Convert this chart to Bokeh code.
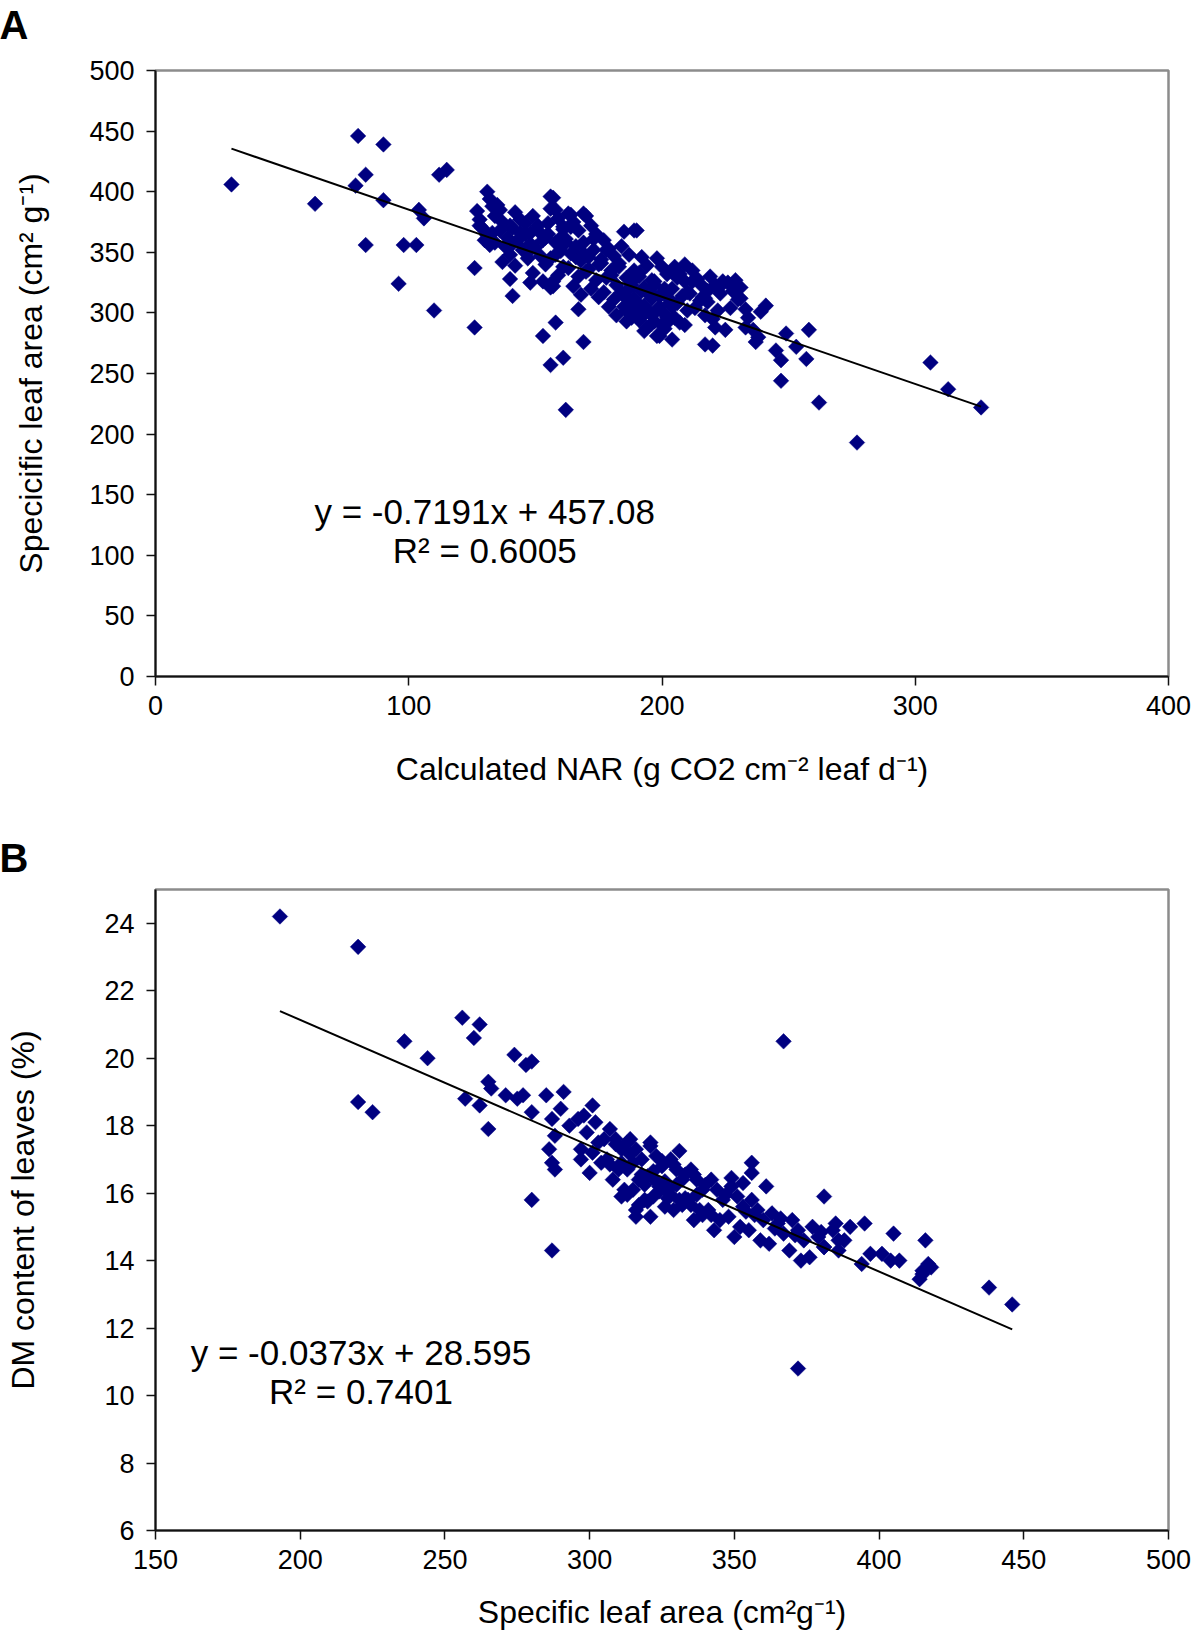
import math
from bokeh.plotting import figure
from bokeh.models import Range1d, FixedTicker, Label
from bokeh.layouts import column
from bokeh.embed import file_html
from bokeh.resources import INLINE

FONT = "Liberation Sans"
NAVY = "#000080"

# ---------------- Panel A: NAR vs specific leaf area ----------------
nar_a = [
    # isolated points
    30, 63, 80, 90, 83, 79, 90, 83, 98, 103, 96, 110, 104, 106, 112, 115, 126, 126, 141, 140,
    148, 153, 156, 161, 162, 158, 169, 167, 156, 164, 169, 189, 204, 198, 217, 220, 221, 225, 233, 237,
    229, 224, 231, 217, 209, 207, 241, 239, 245, 247, 249, 253, 257, 247, 258, 262, 277, 306, 313, 326,
    156, 157, 158,
    # dense band
    127, 128, 129, 131, 130, 131, 132, 133, 128, 133, 132,
    135, 134, 137, 136, 139, 138, 140, 137, 140, 136, 134,
    142, 144, 141, 146, 143, 145, 147, 142, 146, 144, 141, 147,
    149, 151, 148, 153, 150, 152, 154, 149, 153, 151, 154, 148,
    157, 156, 159, 161, 155, 158, 160, 156, 161, 159, 157, 155, 160, 158, 161,
    163, 165, 167, 162, 166, 164, 168, 163, 167, 165, 168, 162, 166, 164,
    170, 172, 174, 169, 173, 171, 175, 170, 174, 172, 175, 169, 173, 171,
    177, 179, 181, 176, 180, 178, 182, 177, 181, 179, 182, 176, 180, 178,
    185, 184, 187, 183, 189, 186, 188, 184, 187, 185, 189, 186, 183, 188, 185,
    190, 192, 194, 191, 196, 193, 195, 190, 194, 192, 196, 193, 191, 195, 190, 196, 192,
    198, 200, 202, 197, 201, 199, 203, 198, 202, 200, 199, 197, 203, 201,
    205, 207, 209, 204, 208, 206, 210, 205, 209, 206, 210,
    212, 214, 216, 211, 215, 213, 217, 212, 216,
    219, 221, 223, 218, 222, 220, 224, 218,
    226, 228, 230, 227, 231,
    233, 236, 238, 234,
    186, 188, 191, 193, 195, 197, 199, 201, 203, 189, 192, 200, 204, 187, 194,
]
sla_a = [
    406, 390, 446, 439, 414, 405, 393, 356, 356, 356, 324, 302, 385, 378, 414, 418, 337, 288, 314, 328,
    325, 281, 257, 263, 220, 292, 276, 303, 396, 381, 382, 368, 278, 281, 274, 273, 288, 286, 288, 276,
    327, 324, 312, 312, 340, 292, 306, 301, 269, 261, 283, 272, 262, 244, 286, 226, 193, 259, 237, 222,
    321, 326, 385,
    384, 377, 370, 364, 360, 400, 394, 388, 372, 366, 356,
    389, 380, 375, 368, 362, 355, 348, 342, 372, 385, 358,
    383, 377, 370, 365, 360, 352, 345, 339, 374, 366, 357, 350,
    380, 372, 366, 360, 354, 347, 340, 333, 326, 368, 362, 357,
    395, 386, 378, 371, 365, 358, 351, 345, 338, 331, 322, 374, 362, 348, 369,
    382, 375, 368, 361, 355, 349, 343, 337, 330, 322, 315, 358, 346, 371,
    380, 372, 365, 358, 352, 346, 340, 334, 327, 320, 313, 349, 361, 336,
    360, 353, 347, 341, 335, 329, 323, 317, 311, 305, 298, 344, 331, 352,
    367, 355, 348, 341, 335, 329, 323, 317, 311, 305, 299, 293, 338, 326, 314,
    368, 346, 339, 333, 327, 321, 315, 309, 303, 297, 291, 285, 330, 318, 306, 312, 300,
    345, 338, 332, 326, 320, 314, 308, 302, 296, 290, 281, 323, 311, 299,
    338, 332, 326, 320, 314, 308, 302, 296, 290, 329, 317,
    335, 328, 322, 316, 310, 304, 298, 326, 313,
    330, 323, 316, 309, 302, 295, 326, 318,
    325, 318, 311, 304, 321,
    303, 286, 280, 296,
    302, 296, 294, 306, 300, 293, 305, 287, 294, 312, 318, 316, 305, 320, 288,
]
fit_a = (-0.7191, 457.08)
eq_a = ["y = -0.7191x + 457.08", "R\u00b2 = 0.6005"]
xticks_a = [0, 100, 200, 300, 400]
yticks_a = [0, 50, 100, 150, 200, 250, 300, 350, 400, 450, 500]

# ---------------- Panel B: specific leaf area vs DM content ----------------
sla_b = [
    193, 220, 220, 225, 236, 244, 256, 262, 260, 257, 262, 265, 266, 265, 274, 280, 278, 280, 287, 271,
    275, 277, 280, 285, 291, 287, 290, 296, 286, 287, 288, 288, 293, 297, 297, 301, 302, 300, 367, 381,
    416, 405, 395, 390, 356, 356, 353, 321, 316, 381, 386, 397, 401, 404, 394, 418, 415, 438, 446, 372,
    414, 415, 417, 407, 313, 311,
    299, 303, 301, 304, 298, 305,
    307, 309, 311, 306, 310, 308, 312, 309, 307,
    314, 316, 318, 313, 317, 315, 319, 316, 314, 318, 313,
    321, 323, 325, 320, 324, 322, 326, 321, 325, 323, 320, 324,
    328, 330, 332, 327, 331, 329, 333, 328, 330, 332,
    335, 337, 339, 334, 338, 336, 340, 335, 337,
    342, 344, 346, 341, 345, 343, 347, 342,
    349, 351, 353, 348, 352, 350, 354, 349,
    356, 358, 360, 355, 359, 357, 361,
    363, 365, 367, 362, 366, 364,
    370, 372, 374, 369, 373, 371,
    377, 379, 381, 376, 380,
    384, 386, 388, 385,
    311, 315, 319, 322, 326, 329, 333, 336, 339, 331, 317, 327,
]
dm_b = [
    24.2, 23.3, 18.7, 18.4, 20.5, 20.0, 21.2, 21.0, 20.6, 18.8, 18.6, 19.3, 19.1, 17.9, 20.1, 19.9, 19.8, 15.8, 14.3, 18.9,
    18.8, 18.9, 18.4, 18.9, 19.0, 18.2, 18.5, 18.2, 17.3, 16.9, 16.7, 17.7, 18.0, 17.3, 17.0, 18.6, 18.1, 16.6, 20.5, 15.9,
    14.6, 14.8, 15.1, 15.0, 16.9, 16.6, 16.3, 17.5, 15.3, 14.4, 14.6, 14.2, 14.2, 14.0, 13.9, 13.8, 13.6, 13.2, 12.7, 10.8,
    13.45, 13.7, 13.9, 14.0, 17.5, 15.9,
    17.8, 17.5, 17.2, 16.9, 18.3, 17.6,
    17.9, 17.6, 17.3, 17.0, 16.7, 16.4, 16.1, 17.45, 16.85,
    17.6, 17.3, 17.0, 16.7, 16.4, 16.1, 15.8, 15.5, 17.15, 16.55, 15.95,
    17.4, 17.1, 16.8, 16.5, 16.2, 15.9, 15.6, 15.3, 16.95, 16.35, 15.75, 16.05,
    17.0, 16.7, 16.4, 16.1, 15.8, 15.5, 16.55, 15.95, 16.25, 15.65,
    16.7, 16.4, 16.1, 15.8, 15.5, 15.2, 16.25, 15.65, 15.95,
    16.4, 16.1, 15.8, 15.5, 15.2, 14.9, 15.95, 15.35,
    16.2, 15.9, 15.6, 15.3, 15.0, 14.7, 15.45, 16.45,
    15.8, 15.5, 15.2, 14.9, 14.6, 15.35, 16.2,
    15.4, 15.1, 14.8, 14.5, 15.25, 14.95,
    15.2, 14.9, 14.6, 14.3, 14.0, 14.75,
    15.0, 14.7, 14.4, 14.1, 14.85,
    14.9, 14.3, 14.6, 15.1,
    16.9, 16.9, 16.25, 16.65, 16.35, 16.85, 15.85, 16.55, 15.35, 17.25, 15.65, 15.85,
]
fit_b = (-0.0373, 28.595)
eq_b = ["y = -0.0373x + 28.595", "R\u00b2 = 0.7401"]
xticks_b = [150, 200, 250, 300, 350, 400, 450, 500]
yticks_b = [6, 8, 10, 12, 14, 16, 18, 20, 22, 24]

assert len(nar_a) == len(sla_a)
assert len(sla_b) == len(dm_b)

SHIFT = 22  # the whole column is lifted by this many pixels


def style(p, xticks, yticks, ylab_standoff, xlab_standoff):
    p.grid.visible = False
    p.outline_line_color = "#8c8c8c"
    p.outline_line_width = 2.5
    p.background_fill_color = "white"
    p.border_fill_color = "white"
    p.xaxis.ticker = FixedTicker(ticks=xticks)
    p.yaxis.ticker = FixedTicker(ticks=yticks)
    for ax in p.axis:
        ax.axis_line_color = "#111111"
        ax.axis_line_width = 2
        ax.major_tick_line_color = "#111111"
        ax.major_tick_line_width = 1.5
        ax.major_tick_in = 0
        ax.major_tick_out = 9
        ax.minor_tick_line_color = None
        ax.major_label_text_font = FONT
        ax.major_label_text_font_size = "27px"
        ax.major_label_text_color = "black"
        ax.axis_label_text_font = FONT
        ax.axis_label_text_font_size = "32px"
        ax.axis_label_text_font_style = "normal"
        ax.axis_label_text_color = "black"
    p.yaxis.major_label_standoff = 12
    p.xaxis.major_label_standoff = 10
    p.yaxis.axis_label_standoff = ylab_standoff
    p.xaxis.axis_label_standoff = xlab_standoff


def panel_letter(p, letter, standoff):
    p.title.text = letter
    p.title.align = "left"
    p.title.vertical_align = "top"
    p.title.offset = -156
    p.title.standoff = standoff
    p.title.text_font = FONT
    p.title.text_font_size = "40px"
    p.title.text_font_style = "bold"
    p.title.text_color = "black"


# ---------------- figure A ----------------
pa = figure(width=1200, height=800 + SHIFT, x_range=Range1d(0, 400), y_range=Range1d(0, 500),
            output_backend="svg", toolbar_location=None,
            min_border_left=155, min_border_right=32, min_border_top=70 + SHIFT, min_border_bottom=124)
style(pa, xticks_a, yticks_a, 37, 33)
panel_letter(pa, "A", 22 + SHIFT)
pa.xaxis.axis_label = "Calculated NAR (g CO2 cm\u207b\u00b2 leaf d\u207b\u00b9)"
pa.yaxis.axis_label = "Specicific leaf area (cm\u00b2 g\u207b\u00b9)"
pa.scatter(nar_a, sla_a, marker="square", size=11, angle=math.pi / 4,
           fill_color=NAVY, line_color=NAVY, line_width=0.5)
xa = [min(nar_a), max(nar_a)]
pa.line(xa, [fit_a[0] * v + fit_a[1] for v in xa], line_color="black", line_width=2)
pa.add_layout(Label(x=130, y=136, text=eq_a[0], text_align="center", text_baseline="middle",
                    text_font=FONT, text_font_size="35px", text_color="black"))
pa.add_layout(Label(x=130, y=104, text=eq_a[1], text_align="center", text_baseline="middle",
                    text_font=FONT, text_font_size="35px", text_color="black"))

# ---------------- figure B ----------------
pb = figure(width=1200, height=832, x_range=Range1d(150, 500), y_range=Range1d(6, 25),
            output_backend="svg", toolbar_location=None,
            min_border_left=155, min_border_right=23, min_border_top=89, min_border_bottom=100)
style(pb, xticks_b, yticks_b, 60, 22)
panel_letter(pb, "B", 15)
pb.xaxis.axis_label = "Specific leaf area (cm\u00b2g\u207b\u00b9)"
pb.yaxis.axis_label = "DM content of leaves (%)"
pb.scatter(sla_b, dm_b, marker="square", size=11, angle=math.pi / 4,
           fill_color=NAVY, line_color=NAVY, line_width=0.5)
xb = [min(sla_b), max(sla_b)]
pb.line(xb, [fit_b[0] * v + fit_b[1] for v in xb], line_color="black", line_width=2)
pb.add_layout(Label(x=221, y=11.27, text=eq_b[0], text_align="center", text_baseline="middle",
                    text_font=FONT, text_font_size="35px", text_color="black"))
pb.add_layout(Label(x=221, y=10.12, text=eq_b[1], text_align="center", text_baseline="middle",
                    text_font=FONT, text_font_size="35px", text_color="black"))

layout = column(pa, pb, spacing=0, styles={"margin-top": "-%dpx" % SHIFT})
open("out.html", "w").write(file_html(layout, INLINE))
